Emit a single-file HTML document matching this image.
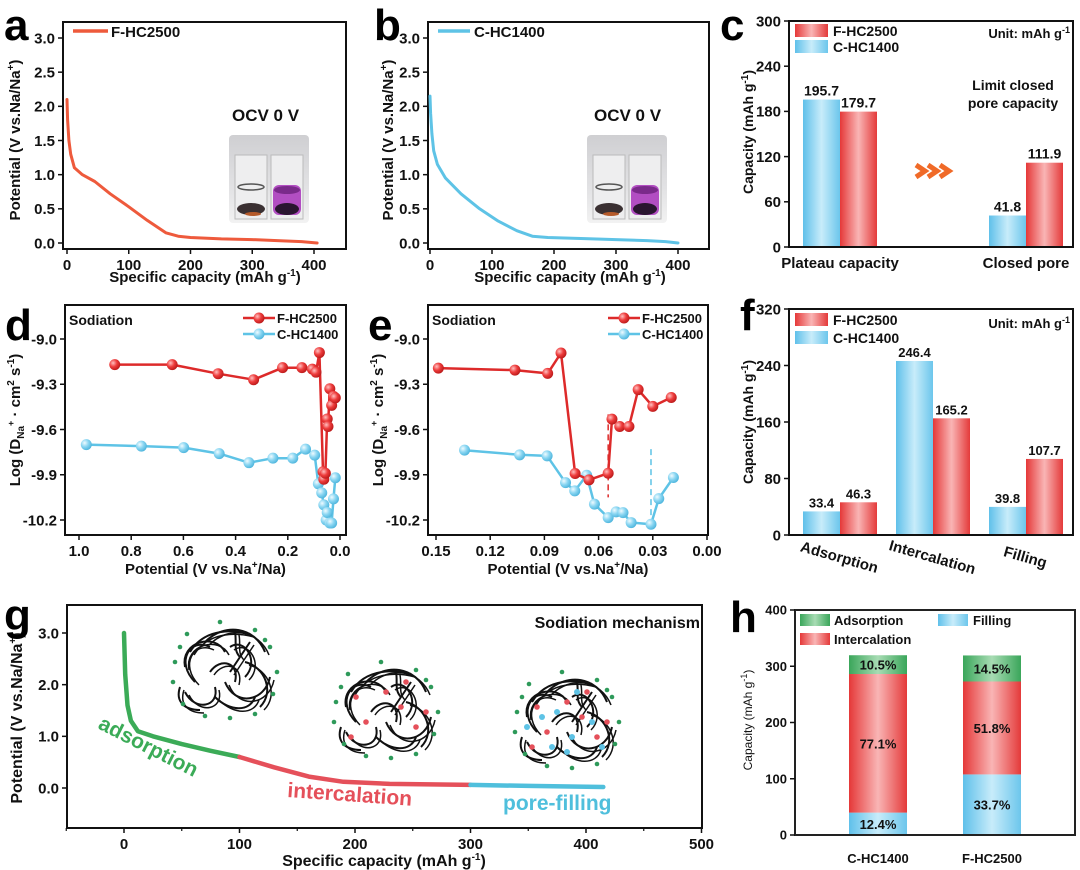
<!DOCTYPE html>
<html><head><meta charset="utf-8"><style>
html,body{margin:0;padding:0;background:#fff;}
svg{display:block;font-family:"Liberation Sans",Arial,sans-serif;font-weight:bold;}
</style></head><body>
<svg id="fig" width="1080" height="870" viewBox="0 0 1080 870" xmlns="http://www.w3.org/2000/svg">
<defs>
<linearGradient id="gBlue" x1="0" x2="1" y1="0" y2="0"><stop offset="0" stop-color="#5fc0ea"/><stop offset="0.5" stop-color="#c8ecfa"/><stop offset="1" stop-color="#6cc6ec"/></linearGradient>
<linearGradient id="gRed" x1="0" x2="1" y1="0" y2="0"><stop offset="0" stop-color="#e53838"/><stop offset="0.5" stop-color="#f9b5b5"/><stop offset="1" stop-color="#e43a3a"/></linearGradient>
<linearGradient id="gGreen" x1="0" x2="1" y1="0" y2="0"><stop offset="0" stop-color="#3aa65a"/><stop offset="0.5" stop-color="#a8dcb4"/><stop offset="1" stop-color="#3aa65a"/></linearGradient>
<radialGradient id="mRed" cx="0.35" cy="0.35" r="0.7"><stop offset="0" stop-color="#ffc0c0"/><stop offset="0.5" stop-color="#ee3c3c"/><stop offset="1" stop-color="#b81818"/></radialGradient>
<radialGradient id="mBlue" cx="0.35" cy="0.35" r="0.7"><stop offset="0" stop-color="#f0fbff"/><stop offset="0.5" stop-color="#8ad6f2"/><stop offset="1" stop-color="#4cb4dc"/></radialGradient>
<linearGradient id="gPhoto" x1="0" x2="0" y1="0" y2="1"><stop offset="0" stop-color="#cfcfd2"/><stop offset="0.6" stop-color="#e2e2e4"/><stop offset="1" stop-color="#f2f2f2"/></linearGradient>
</defs>
</svg>
<script>
// ===== DATA =====
// panel a / b discharge curves
const aCap = [0,1,3,6,12,25,45,70,100,130,160,180,200,250,300,350,380,405];
const aVolt = [2.1,1.8,1.5,1.3,1.1,1.0,0.9,0.72,0.53,0.33,0.15,0.1,0.08,0.06,0.05,0.03,0.02,0.0];
const bCap = [0,1,3,6,12,25,50,80,110,140,165,190,250,300,350,380,400];
const bVolt = [2.15,1.9,1.6,1.35,1.15,0.95,0.72,0.5,0.32,0.18,0.1,0.08,0.065,0.05,0.035,0.02,0.0];
// panel c
const cCats = ["Plateau capacity","Closed pore"];
const cBlue = [195.7,41.8];
const cRed = [179.7,111.9];
const cTicks = [0,60,120,180,240,300];
// panel f
const fCats = ["Adsorption","Intercalation","Filling"];
const fBlue = [33.4,246.4,39.8];
const fRed = [46.3,165.2,107.7];
const fTicks = [0,80,160,240,320];
// panel d
const dFx = [0.863,0.643,0.467,0.331,0.220,0.146,0.106,0.092,0.079,0.065,0.062,0.056,0.049,0.046,0.039,0.032,0.025,0.018];
const dFy = [-9.17,-9.17,-9.23,-9.27,-9.19,-9.19,-9.20,-9.22,-9.09,-9.88,-9.93,-9.89,-9.53,-9.58,-9.33,-9.44,-9.38,-9.39];
const dCx = [0.972,0.761,0.599,0.463,0.349,0.257,0.181,0.132,0.097,0.083,0.070,0.062,0.053,0.049,0.039,0.032,0.025,0.018];
const dCy = [-9.70,-9.71,-9.72,-9.76,-9.82,-9.79,-9.79,-9.73,-9.77,-9.96,-10.02,-10.10,-10.20,-10.15,-10.22,-10.22,-10.06,-9.92];
const dXTicks = [1.0,0.8,0.6,0.4,0.2,0.0];
const dYTicks = [-9.0,-9.3,-9.6,-9.9,-10.2];
// panel e
const eFx = [0.1487,0.1063,0.0882,0.0808,0.0730,0.0653,0.0547,0.0526,0.0483,0.0432,0.0381,0.0300,0.0198];
const eFy = [-9.193,-9.206,-9.228,-9.093,-9.892,-9.934,-9.890,-9.531,-9.580,-9.580,-9.336,-9.447,-9.388];
const eCx = [0.1342,0.1037,0.0885,0.0783,0.0732,0.0666,0.0623,0.0547,0.0503,0.0465,0.0420,0.0310,0.0267,0.0186];
const eCy = [-9.737,-9.768,-9.775,-9.952,-10.007,-9.903,-10.095,-10.184,-10.146,-10.151,-10.217,-10.228,-10.058,-9.918];
const eXTicks = [0.15,0.12,0.09,0.06,0.03,0.00];
const eXTickLabels = ["0.15","0.12","0.09","0.06","0.03","0.00"];
// panel g
const gGreenCap = [0,1,3,6,12,25,50,75,100];
const gGreenV = [3.0,2.2,1.6,1.3,1.1,1.0,0.85,0.72,0.6];
const gRedCap = [100,130,160,190,230,300];
const gRedV = [0.6,0.4,0.22,0.12,0.08,0.06];
const gBlueCap = [300,350,415];
const gBlueV = [0.06,0.04,0.02];
const gXTicks = [0,100,200,300,400,500];
const gYTicks = [0.0,1.0,2.0,3.0];
// panel h
const hCats = ["C-HC1400","F-HC2500"];
const hFilling = [39.8,107.7];
const hInter = [246.4,165.2];
const hAds = [33.4,46.3];
const hFillPct = ["12.4%","33.7%"];
const hInterPct = ["77.1%","51.8%"];
const hAdsPct = ["10.5%","14.5%"];
const hTicks = [0,100,200,300,400];

// ===== HELPERS =====
const svg = document.getElementById('fig');
const NS = 'http://www.w3.org/2000/svg';
function el(tag, attrs, parent){const e=document.createElementNS(NS,tag);for(const k in attrs)e.setAttribute(k,attrs[k]);(parent||svg).appendChild(e);return e;}
function tx(x,y,s,size,anchor,fill,parent,extra){const t=el('text',Object.assign({x:x,y:y,'font-size':size,'text-anchor':anchor||'start',fill:fill||'#111'},extra||{}),parent);t.textContent=s;return t;}
function lin(d0,d1,r0,r1){return v=>r0+(v-d0)*(r1-r0)/(d1-d0);}
function grp(name){const g=el('g',{});return g;}
function box(g,x0,y0,x1,y1){const r=el('rect',{x:x0,y:y0,width:x1-x0,height:y1-y0,fill:'none',stroke:'#111','stroke-width':2},g);}
function yAxis(g,ticks,sy,x0,fs,fmt){ticks.forEach(v=>{el('line',{x1:x0-5,x2:x0,y1:sy(v),y2:sy(v),stroke:'#111','stroke-width':1.5},g);const t=tx(x0-8,sy(v)+fs*0.35,fmt?fmt(v):String(v),fs,'end','#111',g);});}
function xAxis(g,ticks,labels,sx,y0,fs){ticks.forEach((v,i)=>{el('line',{x1:sx(v),x2:sx(v),y1:y0,y2:y0+5,stroke:'#111','stroke-width':1.5},g);const t=tx(sx(v),y0+fs+6,labels[i],fs,'middle','#111',g);});}
function poly(g,xs,ys,sx,sy,color,w){const d=xs.map((v,i)=>(i?'L':'M')+sx(v).toFixed(1)+','+sy(ys[i]).toFixed(1)).join('');return el('path',{d:d,fill:'none',stroke:color,'stroke-width':w,'stroke-linejoin':'round','stroke-linecap':'round'},g);}
function letter(s,x,y){const t=tx(x,y,s,44,'start','#000');}
function rotTitle(g,x,y,s,fs,name){const t=tx(0,0,'',fs,'middle','#111',g,{transform:'translate('+x+','+y+') rotate(-90)'});t.innerHTML=s;return t;}
function inset(g,x,y){const p=el('g',{},g);
 el('rect',{x:x,y:y,width:80,height:88,fill:'url(#gPhoto)',rx:4},p);
 el('rect',{x:x+6,y:y+20,width:32,height:64,fill:'#eeeeef',stroke:'#bbb','stroke-width':1},p);
 el('rect',{x:x+42,y:y+20,width:32,height:64,fill:'#eeeeef',stroke:'#bbb','stroke-width':1},p);
 el('ellipse',{cx:x+22,cy:y+52,rx:13,ry:3,fill:'none',stroke:'#555','stroke-width':1.5},p);
 el('ellipse',{cx:x+22,cy:y+74,rx:14,ry:6,fill:'#3a3032'},p);
 el('ellipse',{cx:x+24,cy:y+79,rx:8,ry:2,fill:'#b55a2a'},p);
 el('rect',{x:x+44,y:y+50,width:28,height:30,rx:6,fill:'#b24ec2'},p);
 el('ellipse',{cx:x+58,cy:y+74,rx:12,ry:6,fill:'#2a1530'},p);
 el('ellipse',{cx:x+58,cy:y+55,rx:13,ry:4,fill:'#7a2a8a'},p);}

// ===== PANEL A =====
(function(){const g=grp('panel-a');letter('a',4,40);
 const sx=lin(0,400,67,314), sy=lin(0,3,243,38);
 box(g,63,22,346,249);
 yAxis(g,[0,0.5,1,1.5,2,2.5,3],sy,63,15,v=>v.toFixed(1));
 xAxis(g,[0,100,200,300,400],['0','100','200','300','400'],sx,249,15);
 const p=poly(g,aCap,aVolt,sx,sy,'#ee5a3c',3);
 const l=el('line',{x1:73,x2:108,y1:31,y2:31,stroke:'#ee5a3c','stroke-width':3.5},g);
 const lt=tx(111,37,'F-HC2500',15,'start','#111',g);
 const o=tx(232,121,'OCV   0 V',17,'start','#111',g);
 inset(g,229,135);
 const xt=tx(205,282,'',15,'middle','#111',g);xt.innerHTML='Specific capacity (mAh g<tspan dy="-6" font-size="10">-1</tspan><tspan dy="6">)</tspan>';
 rotTitle(g,20,140,'Potential (V vs.Na/Na<tspan dy="-6" font-size="10">+</tspan><tspan dy="6">)</tspan>',15,'y-axis-title');
})();
// ===== PANEL B =====
(function(){const g=grp('panel-b');letter('b',374,40);
 const sx=lin(0,400,430,678), sy=lin(0,3,243,38);
 box(g,428,22,709,249);
 yAxis(g,[0,0.5,1,1.5,2,2.5,3],sy,428,15,v=>v.toFixed(1));
 xAxis(g,[0,100,200,300,400],['0','100','200','300','400'],sx,249,15);
 const p=poly(g,bCap,bVolt,sx,sy,'#5ec3e6',3);
 const l=el('line',{x1:438,x2:470,y1:31,y2:31,stroke:'#5ec3e6','stroke-width':3.5},g);
 const lt=tx(474,37,'C-HC1400',15,'start','#111',g);
 const o=tx(594,121,'OCV   0 V',17,'start','#111',g);
 inset(g,587,135);
 const xt=tx(570,282,'',15,'middle','#111',g);xt.innerHTML='Specific capacity (mAh g<tspan dy="-6" font-size="10">-1</tspan><tspan dy="6">)</tspan>';
 rotTitle(g,393,140,'Potential (V vs.Na/Na<tspan dy="-6" font-size="10">+</tspan><tspan dy="6">)</tspan>',15,'y-axis-title');
})();
// ===== PANEL C =====
(function(){const g=grp('panel-c');letter('c',720,40);
 const sy=lin(0,300,247,21); const x0=789,x1=1073; const cx=[840,1026]; const bw=37;
 cBlue.forEach((v,i)=>{const r=el('rect',{x:cx[i]-bw,y:sy(v),width:bw,height:sy(0)-sy(v),fill:'url(#gBlue)'},g);
  const t=tx(cx[i]-bw/2,sy(v)-4,v.toFixed(1),14,'middle','#111',g);});
 cRed.forEach((v,i)=>{const r=el('rect',{x:cx[i],y:sy(v),width:bw,height:sy(0)-sy(v),fill:'url(#gRed)'},g);
  const t=tx(cx[i]+bw/2,sy(v)-4,v.toFixed(1),14,'middle','#111',g);});
 box(g,x0,21,x1,247);
 yAxis(g,cTicks,sy,x0,15);
 cCats.forEach((c,i)=>{const t=tx(cx[i],268,c,15,'middle','#111',g);});
 const s1=el('rect',{x:795,y:24,width:33,height:13,fill:'url(#gRed)'},g);
 const s2=el('rect',{x:795,y:40,width:33,height:13,fill:'url(#gBlue)'},g);
 const t1=tx(833,36,'F-HC2500',14,'start','#111',g);
 const t2=tx(833,52,'C-HC1400',14,'start','#111',g);
 const u=tx(1070,38,'',13,'end','#111',g);u.innerHTML='Unit:  mAh g<tspan dy="-5" font-size="9">-1</tspan>';
 const a1=tx(1013,90,'Limit closed',14,'middle','#111',g);
 const a2=tx(1013,108,'pore capacity',14,'middle','#111',g);
 const ar=el('g',{},g);
 [0,12,24].forEach(d=>el('path',{d:'M'+(916+d)+',165 L'+(925+d)+',171 L'+(916+d)+',177',fill:'none',stroke:'#f06a28','stroke-width':5},ar));
 rotTitle(g,753,132,'Capacity (mAh g<tspan dy="-5" font-size="10">-1</tspan><tspan dy="5">)</tspan>',14,'y-axis-title');
})();
// ===== PANEL F =====
(function(){const g=grp('panel-f');letter('f',740,330);
 const sy=lin(0,320,535,309); const x0=789,x1=1073; const cx=[840,933,1026]; const bw=37;
 fBlue.forEach((v,i)=>{const r=el('rect',{x:cx[i]-bw,y:sy(v),width:bw,height:sy(0)-sy(v),fill:'url(#gBlue)'},g);
  const t=tx(cx[i]-bw/2,sy(v)-4,v.toFixed(1),13,'middle','#111',g);});
 fRed.forEach((v,i)=>{const r=el('rect',{x:cx[i],y:sy(v),width:bw,height:sy(0)-sy(v),fill:'url(#gRed)'},g);
  const t=tx(cx[i]+bw/2,sy(v)-4,v.toFixed(1),13,'middle','#111',g);});
 box(g,x0,309,x1,535);
 yAxis(g,fTicks,sy,x0,15);
 fCats.forEach((c,i)=>{const t=tx(0,0,c,15,'middle','#111',g,{transform:'translate('+(cx[i]-2)+',562) rotate(16)'});});
 const s1=el('rect',{x:795,y:313,width:33,height:13,fill:'url(#gRed)'},g);
 const s2=el('rect',{x:795,y:331,width:33,height:13,fill:'url(#gBlue)'},g);
 const t1=tx(833,325,'F-HC2500',14,'start','#111',g);
 const t2=tx(833,343,'C-HC1400',14,'start','#111',g);
 const u=tx(1070,328,'',13,'end','#111',g);u.innerHTML='Unit:  mAh g<tspan dy="-5" font-size="9">-1</tspan>';
 rotTitle(g,753,422,'Capacity (mAh g<tspan dy="-5" font-size="10">-1</tspan><tspan dy="5">)</tspan>',14,'y-axis-title');
})();
// ===== DIFFUSION PANELS =====
function diffPanel(name,lt,bx0,bx1,xd0,xd1,xr0,xr1,xTicks,xLabels,Fx,Fy,Cx,Cy,legX,dashes){
 const g=grp(name);letter(lt,bx0-60,340);
 const sx=lin(xd0,xd1,xr0,xr1), sy=lin(-9.0,-10.2,339,520);
 box(g,bx0,305,bx1,535);
 yAxis(g,dYTicks,sy,bx0,15,v=>v.toFixed(1));
 xAxis(g,xTicks,xLabels,sx,535,15);
 const sTxt=tx(bx0+4,325,'Sodiation',14,'start','#111',g);
 if(dashes){dashes.forEach(d=>{const l=el('line',{x1:sx(d.x),x2:sx(d.x),y1:sy(d.y0),y2:sy(d.y1),stroke:d.c,'stroke-width':1.5,'stroke-dasharray':'6,4'},g);});}
 const lc=poly(g,Cx,Cy,sx,sy,'#5ec3e6',2.5);
 Cx.forEach((v,i)=>{const c=el('circle',{cx:sx(v),cy:sy(Cy[i]),r:5.5,fill:'url(#mBlue)'},g);});
 const lf=poly(g,Fx,Fy,sx,sy,'#dd2a2a',2.5);
 Fx.forEach((v,i)=>{const c=el('circle',{cx:sx(v),cy:sy(Fy[i]),r:5.5,fill:'url(#mRed)'},g);});
 const le=el('g',{},g);
 el('line',{x1:legX,x2:legX+32,y1:318,y2:318,stroke:'#dd2a2a','stroke-width':2.5},le);el('circle',{cx:legX+16,cy:318,r:5.5,fill:'url(#mRed)'},le);
 el('line',{x1:legX,x2:legX+32,y1:334,y2:334,stroke:'#5ec3e6','stroke-width':2.5},le);el('circle',{cx:legX+16,cy:334,r:5.5,fill:'url(#mBlue)'},le);
 tx(legX+34,323,'F-HC2500',13,'start','#111',le);tx(legX+34,339,'C-HC1400',13,'start','#111',le);
 const xt=tx((bx0+bx1)/2,574,'',15,'middle','#111',g);xt.innerHTML='Potential (V vs.Na<tspan dy="-6" font-size="10">+</tspan><tspan dy="6">/Na)</tspan>';
 rotTitle(g,bx0-45,420,'Log (D<tspan dy="4" font-size="10">Na</tspan><tspan dy="-10" font-size="9">+</tspan><tspan dy="6"> · cm</tspan><tspan dy="-6" font-size="10">2</tspan><tspan dy="6"> s</tspan><tspan dy="-6" font-size="10">-1</tspan><tspan dy="6">)</tspan>',15,'y-axis-title');
}
diffPanel('panel-d','d',65,346,1.0,0.0,79,340,dXTicks,dXTicks.map(v=>v.toFixed(1)),dFx,dFy,dCx,dCy,243,null);
diffPanel('panel-e','e',428,708,0.15,0.0,436,707,eXTicks,eXTickLabels,eFx,eFy,eCx,eCy,608,[{x:0.0547,y0:-9.50,y1:-10.05,c:'#dd2a2a'},{x:0.0310,y0:-9.73,y1:-10.24,c:'#5ec3e6'}]);

// ===== PANEL G =====
(function(){const g=grp('panel-g');letter('g',4,630);
 const sx=lin(0,500,124,701.5), sy=lin(0,3,788,633);
 box(g,67,605,702,828);
 yAxis(g,gYTicks,sy,67,15,v=>v.toFixed(1));
 xAxis(g,gXTicks,gXTicks.map(String),sx,828,15);
 // minor ticks
 [-50,50,150,250,350,450].forEach(v=>el('line',{x1:sx(v),x2:sx(v),y1:828,y2:831,stroke:'#111','stroke-width':1.2},g));
 const p1=poly(g,gGreenCap,gGreenV,sx,sy,'#3bab57',4.5);
 const p2=poly(g,gRedCap,gRedV,sx,sy,'#e5505a',4.5);
 const p3=poly(g,gBlueCap,gBlueV,sx,sy,'#4fbfdc',4.5);
 const l1=tx(0,0,'adsorption',21,'start','#3bab57',g,{transform:'translate(97,728) rotate(27)'});
 const l2=tx(0,0,'intercalation',21,'start','#e5505a',g,{transform:'translate(287,797) rotate(4)'});
 const l3=tx(503,810,'pore-filling',21,'start','#4fbfdc',g);
 const st=tx(700,628,'Sodiation  mechanism',16,'end','#111',g);
 const xt=tx(384,866,'',16,'middle','#111',g);xt.innerHTML='Specific capacity (mAh g<tspan dy="-6" font-size="10">-1</tspan><tspan dy="6">)</tspan>';
 rotTitle(g,22,718,'Potential (V vs.Na/Na<tspan dy="-6" font-size="10">+</tspan><tspan dy="6">)</tspan>',16,'y-axis-title');
 // carbon cluster illustrations
 const arcs=['M-40,-5 C-45,-30 -10,-40 0,-20','M-30,10 C-50,-10 -35,-35 -15,-25','M-20,-30 C0,-50 30,-45 40,-20','M5,-25 C20,-35 35,-10 20,5','M-40,20 C-30,40 -5,35 -10,15','M0,10 C10,35 40,30 45,5','M20,-10 C40,-5 50,20 35,35','M-15,0 C-5,-15 15,-10 10,10','M-35,-20 C-20,-45 10,-42 25,-38','M-10,25 C5,40 25,40 30,25','M10,-40 C12,-30 8,-22 15,-15','M25,-30 L5,0','M-45,15 C-50,30 -40,38 -25,38'];
 const dots=[[-45,-25],[-38,-38],[-5,-50],[30,-42],[45,-25],[52,0],[48,22],[30,42],[5,46],[-20,44],[-42,32],[-52,10],[-50,-10],[40,-32]];
 function cluster(cx,cy,name,ext){const c=el('g',{transform:'translate('+cx+','+cy+')'},g);
  arcs.forEach(d=>{el('path',{d:d,fill:'none',stroke:'#111','stroke-width':2},c);el('path',{d:d,fill:'none',stroke:'#111','stroke-width':1.5,transform:'translate(4,3)'},c);});
  dots.forEach(p=>el('circle',{cx:p[0],cy:p[1],r:2.3,fill:'#2e9a5a'},c));
  if(ext) ext(c);}
 cluster(225,672,'cluster-adsorption');
 const redPts=[[-30,-15],[-20,10],[0,-20],[15,-5],[30,15],[-35,25],[20,-30],[40,0]];
 const bluePts=[[-25,-5],[-10,-10],[5,15],[25,0],[-15,25],[10,-30],[35,25],[-40,5],[0,30]];
 cluster(386,712,'cluster-intercalation',c=>redPts.forEach(p=>el('circle',{cx:p[0],cy:p[1],r:2.8,fill:'#e5505a'},c)));
 cluster(567,722,'cluster-pore-filling',c=>{redPts.forEach(p=>el('circle',{cx:p[0],cy:p[1],r:2.8,fill:'#e5505a'},c));bluePts.forEach(p=>el('circle',{cx:p[0],cy:p[1],r:3,fill:'#5ec3e6'},c));});
})();

// ===== PANEL H =====
(function(){const g=grp('panel-h');letter('h',730,632);
 const sy=lin(0,400,835,610); const cx=[878,992]; const bw=58;
 hCats.forEach((c,i)=>{
  const f=hFilling[i], it=hInter[i], a=hAds[i];
  const r1=el('rect',{x:cx[i]-bw/2,y:sy(f),width:bw,height:sy(0)-sy(f),fill:'url(#gBlue)'},g);
  const r2=el('rect',{x:cx[i]-bw/2,y:sy(f+it),width:bw,height:sy(f)-sy(f+it),fill:'url(#gRed)'},g);
  const r3=el('rect',{x:cx[i]-bw/2,y:sy(f+it+a),width:bw,height:sy(f+it)-sy(f+it+a),fill:'url(#gGreen)'},g);
  const t1=tx(cx[i],(sy(0)+sy(f))/2+5,hFillPct[i],13,'middle','#111',g);
  const t2=tx(cx[i],(sy(f)+sy(f+it))/2+5,hInterPct[i],13,'middle','#111',g);
  const t3=tx(cx[i],(sy(f+it)+sy(f+it+a))/2+5,hAdsPct[i],13,'middle','#111',g);
  const xl=tx(cx[i],863,c,13,'middle','#111',g);
 });
 const ax=el('path',{d:'M795,610 L1075,610 L1075,835 L795,835 Z',fill:'none',stroke:'#222','stroke-width':2},g);
 yAxis(g,hTicks,sy,795,13);
 const s1=el('rect',{x:800,y:614,width:30,height:12,fill:'url(#gGreen)'},g);
 const s2=el('rect',{x:938,y:614,width:30,height:12,fill:'url(#gBlue)'},g);
 const s3=el('rect',{x:800,y:633,width:30,height:12,fill:'url(#gRed)'},g);
 const l1=tx(834,625,'Adsorption',13,'start','#111',g);
 const l2=tx(973,625,'Filling',13,'start','#111',g);
 const l3=tx(834,644,'Intercalation',13,'start','#111',g);
 const yt=rotTitle(g,752,720,'Capacity (mAh g<tspan dy="-5" font-size="9">-1</tspan><tspan dy="5">)</tspan>',12,'y-axis-title');yt.setAttribute('font-weight','normal');
})();
</script>
</body></html>
